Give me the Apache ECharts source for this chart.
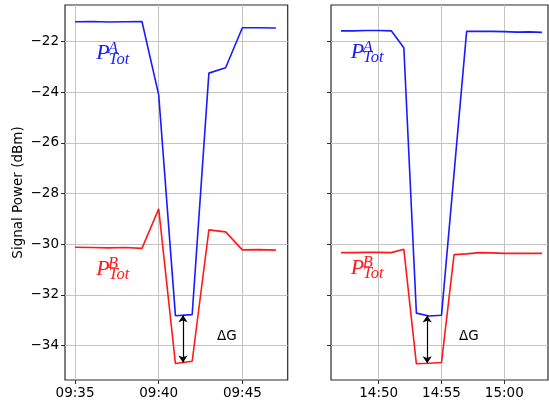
<!DOCTYPE html>
<html>
<head>
<meta charset="utf-8">
<script src="https://cdn.jsdelivr.net/npm/echarts@6/dist/echarts.min.js"></script>
<style>
  html, body { margin: 0; padding: 0; background: #fff; }
  #chart { width: 549px; height: 405px; }
</style>
</head>
<body>
<div id="chart"></div>
<script>
// Morning window (one sample per minute)
const morningTimes = ['09:35','09:36','09:37','09:38','09:39','09:40','09:41','09:42','09:43','09:44','09:45','09:46','09:47'];
const morningA = [-21.21, -21.20, -21.22, -21.21, -21.20, -24.10, -32.82, -32.78, -23.24, -23.03, -21.45, -21.45, -21.46];
const morningB = [-30.12, -30.13, -30.14, -30.13, -30.16, -28.60, -34.71, -34.62, -29.43, -29.51, -30.22, -30.21, -30.23];

// Afternoon window (14:56 missing for path A)
const afternoonTimes = ['14:47','14:48','14:49','14:50','14:51','14:52','14:53','14:54','14:55','14:56','14:57','14:58','14:59','15:00','15:01','15:02','15:03'];
const afternoonA = [-21.57, -21.57, -21.56, -21.56, -21.57, -22.24, -32.72, -32.83, -32.80, null, -21.59, -21.59, -21.59, -21.60, -21.62, -21.61, -21.63];
const afternoonB = [-30.33, -30.33, -30.32, -30.32, -30.33, -30.20, -34.72, -34.70, -34.67, -30.41, -30.38, -30.33, -30.34, -30.36, -30.36, -30.36, -30.36];

// Tick labels
const morningTicks = ['09:35', '09:40', '09:45'];
const afternoonTicks = ['14:50', '14:55', '15:00'];
const powerTicks = [-34, -32, -30, -28, -26, -24, -22];

// Gain-gap arrow positions (time, top, bottom)
const morningGap = ['09:41.45', -32.80, -34.67];
const afternoonGap = ['14:53.86', -32.81, -34.70];

const toMin = s => { const [h, m] = s.split(':'); return Number(h) * 60 + Number(m); };
const fmtTime = v => {
  const h = Math.floor(v / 60), m = Math.round(v - h * 60);
  return String(h).padStart(2, '0') + ':' + String(m).padStart(2, '0');
};
const fmtPow = v => (v < 0 ? '\u2212' : '') + Math.abs(v);

const pairs = (times, vals) => times.map((t, i) => [toMin(t), vals[i]]);

const BLUE = '#1a1aff', RED = '#ff1a1a';
const frame = '#2a2a2a';
const gridLine = { show: true, lineStyle: { color: '#c4c4c4', width: 1 } };
const tickFont = { fontFamily: 'DejaVu Sans', fontSize: 13.5, color: '#000' };

function xAxis(gridIndex, min, max, ticks) {
  const vals = ticks.map(toMin);
  return {
    type: 'value', gridIndex, min, max,
    axisLine: { show: false },
    axisTick: { show: true, inside: false, length: 4, customValues: vals, lineStyle: { color: frame } },
    axisLabel: Object.assign({ customValues: vals, margin: 6, formatter: fmtTime }, tickFont),
    splitLine: gridLine
  };
}
function yAxis(gridIndex, showLabels) {
  return {
    type: 'value', gridIndex, min: -35.36, max: -20.55,
    name: showLabels ? 'Signal Power (dBm)' : '',
    nameLocation: 'middle', nameGap: 40,
    nameTextStyle: { fontFamily: 'DejaVu Sans', fontSize: 13.5, color: '#000' },
    axisLine: { show: false },
    axisTick: { show: true, inside: false, length: 4, customValues: powerTicks, lineStyle: { color: frame } },
    axisLabel: Object.assign({ show: showLabels, customValues: powerTicks, margin: 6, formatter: fmtPow }, tickFont),
    splitLine: gridLine
  };
}

// P_Tot^X label built from three pieces anchored at one data point
function pLabel(coord, letter, color, subOff, supOff) {
  const base = { coord, symbol: 'circle', symbolSize: 0 };
  const f = { fontFamily: 'Liberation Serif', fontStyle: 'italic', color };
  return [
    Object.assign({}, base, { label: Object.assign({ show: true, position: 'inside', formatter: 'P', fontSize: 22 }, f) }),
    Object.assign({}, base, { label: Object.assign({ show: true, position: 'inside', formatter: letter, fontSize: 16.5, offset: supOff }, f) }),
    Object.assign({}, base, { label: Object.assign({ show: true, position: 'inside', formatter: 'Tot', fontSize: 16.5, offset: subOff }, f) })
  ];
}
function gapText(coord) {
  return { coord, symbol: 'circle', symbolSize: 0,
    label: { show: true, position: 'inside', formatter: '\u0394G', fontFamily: 'DejaVu Sans', fontSize: 13.5, color: '#000' } };
}
function gapArrow(gap) {
  const t = toMin(gap[0]);
  return {
    silent: true, symbol: ['arrow', 'arrow'], symbolSize: [7, 7],
    lineStyle: { color: '#000', width: 1.2, type: 'solid' },
    label: { show: false }, emphasis: { disabled: true },
    data: [[{ coord: [t, gap[1]] }, { coord: [t, gap[2]] }]]
  };
}

function line(xi, data, color, extra) {
  return Object.assign({
    type: 'line', xAxisIndex: xi, yAxisIndex: xi, data, color,
    showSymbol: false, connectNulls: true, silent: true,
    lineStyle: { color, width: 1.6 }
  }, extra || {});
}

const chart = echarts.init(document.getElementById('chart'), null, { renderer: 'canvas' });
chart.setOption({
  animation: false,
  backgroundColor: '#fff',
  grid: [
    { left: 65, top: 5, width: 222.7, height: 375, show: true, borderColor: frame, borderWidth: 1.2, backgroundColor: 'transparent' },
    { left: 331, top: 5, width: 217, height: 375, show: true, borderColor: frame, borderWidth: 1.2, backgroundColor: 'transparent' }
  ],
  xAxis: [ xAxis(0, 574.40, 587.71, morningTicks), xAxis(1, 886.20, 903.48, afternoonTicks) ],
  yAxis: [ yAxis(0, true), yAxis(1, false) ],
  series: [
    line(0, pairs(morningTimes, morningA), BLUE, {
      markPoint: { silent: true, data: pLabel([toMin('09:36.67'), -22.47], 'A', BLUE, [16, 6], [10, -4.5]) }
    }),
    line(0, pairs(morningTimes, morningB), RED, {
      markPoint: { silent: true, data: pLabel([toMin('09:36.67'), -30.97], 'B', RED, [16, 6], [10, -5]).concat([gapText([toMin('09:44.07'), -33.65])]) },
      markLine: gapArrow(morningGap)
    }),
    line(1, pairs(afternoonTimes, afternoonA), BLUE, {
      markPoint: { silent: true, data: pLabel([toMin('14:48.30'), -22.41], 'A', BLUE, [16, 6], [10.5, -4.5]) }
    }),
    line(1, pairs(afternoonTimes, afternoonB), RED, {
      markPoint: { silent: true, data: pLabel([toMin('14:48.30'), -30.94], 'B', RED, [16, 6], [10.5, -5]).concat([gapText([toMin('14:57.17'), -33.65])]) },
      markLine: gapArrow(afternoonGap)
    })
  ]
});
</script>
</body>
</html>
